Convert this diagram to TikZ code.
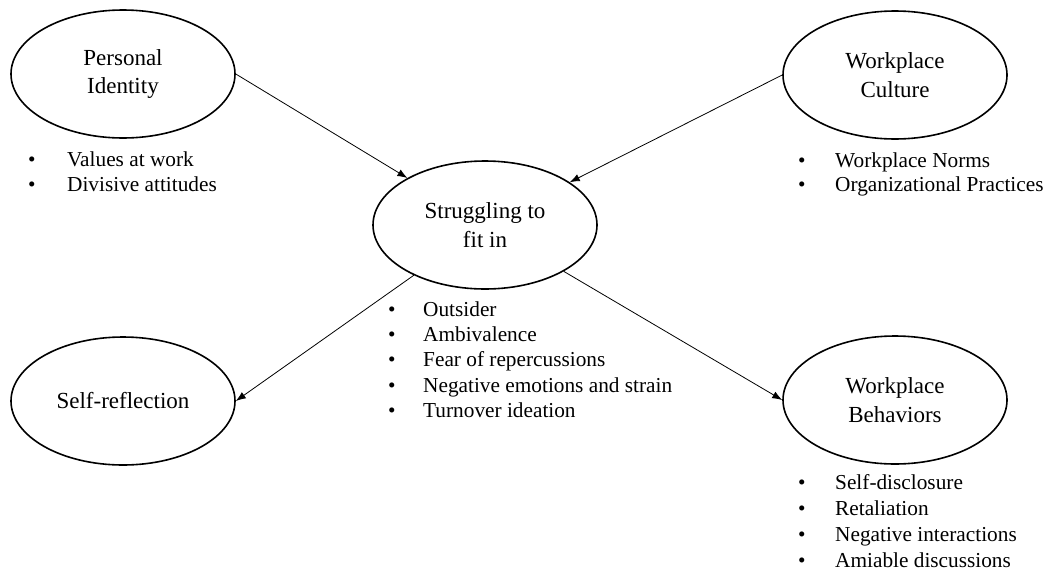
\documentclass[tikz,border=0pt]{standalone}
\usepackage{fontspec}
\setmainfont{Liberation Serif}
\usetikzlibrary{shapes.geometric,arrows.meta}
\tikzset{
  concept/.style={ellipse, draw, line width=1.6pt, minimum width=224pt, minimum height=128pt,
    inner sep=0pt, align=center, font=\fontsize{23}{29}\selectfont},
  item/.style={anchor=base west, inner sep=0pt, font=\fontsize{21.3}{25.5}\selectfont},
  arr/.style={line width=0.8pt, -{Latex[length=10pt,width=7.5pt]}}
}
\begin{document}
\begin{tikzpicture}[x=1pt,y=-1pt]
\useasboundingbox (0,0) rectangle (1048,573);
\node[concept] (pi) at (123,74) {\raisebox{-4pt}{Personal}\\\raisebox{-2pt}{Identity}};
\node[concept] (s) at (485,225) {Struggling to\\fit in};
\node[concept] (wc) at (895,75) {Workplace\\Culture};
\node[concept] (sr) at (123,401) {Self-reflection};
\node[concept] (wb) at (895,400) {Workplace\\Behaviors};

\node[item] (pi1) at (28,166) {\makebox[39pt][l]{•}Values at work};
\node[item] (pi2) at (28,191) {\makebox[39pt][l]{•}Divisive attitudes};

\node[item] (wc1) at (798,167) {\makebox[37pt][l]{•}Workplace Norms};
\node[item] (wc2) at (798,191) {\makebox[37pt][l]{•}Organizational Practices};

\node[item] (s1) at (388,316) {\makebox[35pt][l]{•}Outsider};
\node[item] (s2) at (388,341) {\makebox[35pt][l]{•}Ambivalence};
\node[item] (s3) at (388,366) {\makebox[35pt][l]{•}Fear of repercussions};
\node[item] (s4) at (388,392) {\makebox[35pt][l]{•}Negative emotions and strain};
\node[item] (s5) at (388,417) {\makebox[35pt][l]{•}Turnover ideation};

\node[item] (wb1) at (798,489) {\makebox[37pt][l]{•}Self-disclosure};
\node[item] (wb2) at (798,515) {\makebox[37pt][l]{•}Retaliation};
\node[item] (wb3) at (798,541) {\makebox[37pt][l]{•}Negative interactions};
\node[item] (wb4) at (798,567) {\makebox[37pt][l]{•}Amiable discussions};

\draw[arr] (pi.east) -- (s);
\draw[arr] (wc.west) -- (s);
\draw[arr] (s) -- (sr.east);
\draw[arr] (s) -- (wb.west);
\end{tikzpicture}
\end{document}
